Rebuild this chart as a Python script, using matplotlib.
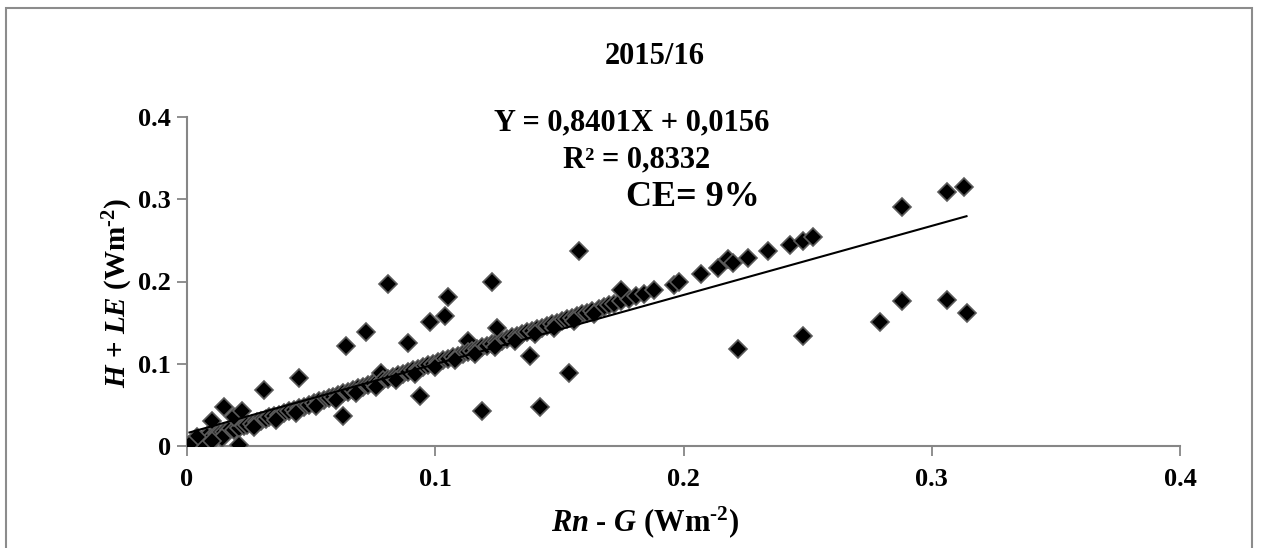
import matplotlib
matplotlib.use("Agg")
import matplotlib.pyplot as plt
from matplotlib.patches import Rectangle

plt.rcParams['font.family'] = 'Liberation Serif'
plt.rcParams['font.weight'] = 'bold'
plt.rcParams['mathtext.fontset'] = 'custom'
plt.rcParams['mathtext.rm'] = 'Liberation Serif:bold'
plt.rcParams['mathtext.bf'] = 'Liberation Serif:bold'
plt.rcParams['mathtext.it'] = 'Liberation Serif:italic:bold'

# Rn - G (x) and H + LE (y)
rn_g = [
    0.003, 0.005, 0.007, 0.008, 0.010, 0.012, 0.013, 0.015, 0.017, 0.019,
    0.021, 0.023, 0.024, 0.026, 0.028, 0.030, 0.032, 0.033, 0.035, 0.037,
    0.039, 0.041, 0.043, 0.045, 0.047, 0.049, 0.051, 0.053, 0.055, 0.057,
    0.059, 0.061, 0.063, 0.065, 0.067, 0.069, 0.071, 0.073, 0.075, 0.077,
    0.078, 0.079, 0.081, 0.083, 0.085, 0.087, 0.089, 0.091, 0.093, 0.095,
    0.097, 0.099, 0.101, 0.103, 0.105, 0.107, 0.109, 0.111, 0.113, 0.113,
    0.115, 0.117, 0.119, 0.121, 0.123, 0.125, 0.127, 0.129, 0.131, 0.133,
    0.135, 0.137, 0.139, 0.141, 0.143, 0.145, 0.147, 0.149, 0.151, 0.153,
    0.155, 0.157, 0.159, 0.161, 0.163, 0.166, 0.168, 0.170, 0.172, 0.175,
    0.178, 0.181, 0.184, 0.188, 0.196, 0.198, 0.207, 0.214, 0.218, 0.220,
    0.226, 0.234, 0.243, 0.248, 0.252, 0.288, 0.306, 0.313,
    # extra band days
    0.006, 0.014, 0.027, 0.036, 0.044, 0.052, 0.060, 0.068, 0.076, 0.084,
    0.092, 0.100, 0.108, 0.116, 0.124, 0.132, 0.140, 0.148, 0.156, 0.164,
    0.010, 0.004,
    # scattered days
    0.001, 0.021, 0.010, 0.015, 0.019, 0.022, 0.031, 0.045, 0.063, 0.064,
    0.072, 0.081, 0.089, 0.094, 0.098, 0.104, 0.105, 0.119, 0.123, 0.125,
    0.138, 0.142, 0.154, 0.158, 0.175, 0.222, 0.248, 0.279, 0.288, 0.306,
    0.314,
]
h_le = [
    0.005, 0.007, 0.010, 0.012, 0.011, 0.015, 0.014, 0.017, 0.019, 0.020,
    0.022, 0.024, 0.026, 0.027, 0.029, 0.031, 0.033, 0.035, 0.036, 0.038,
    0.040, 0.042, 0.044, 0.046, 0.048, 0.050, 0.052, 0.055, 0.056, 0.058,
    0.060, 0.062, 0.064, 0.066, 0.068, 0.070, 0.072, 0.074, 0.076, 0.079,
    0.089, 0.080, 0.082, 0.084, 0.086, 0.088, 0.090, 0.092, 0.094, 0.096,
    0.098, 0.100, 0.102, 0.104, 0.106, 0.108, 0.110, 0.112, 0.128, 0.114,
    0.116, 0.118, 0.120, 0.122, 0.124, 0.126, 0.128, 0.130, 0.132, 0.134,
    0.136, 0.138, 0.140, 0.142, 0.144, 0.146, 0.148, 0.150, 0.152, 0.154,
    0.156, 0.158, 0.160, 0.162, 0.164, 0.167, 0.169, 0.171, 0.173, 0.176,
    0.179, 0.182, 0.185, 0.190, 0.196, 0.199, 0.209, 0.217, 0.227, 0.223,
    0.228, 0.237, 0.244, 0.249, 0.254, 0.290, 0.309, 0.315,
    # extra band days
    0.003, 0.010, 0.023, 0.032, 0.040, 0.049, 0.056, 0.064, 0.072, 0.080,
    0.088, 0.096, 0.104, 0.112, 0.120, 0.128, 0.136, 0.144, 0.152, 0.160,
    0.006, 0.011,
    # scattered days
    0.001, 0.001, 0.030, 0.048, 0.035, 0.043, 0.068, 0.083, 0.036, 0.121,
    0.138, 0.197, 0.125, 0.061, 0.151, 0.158, 0.181, 0.043, 0.200, 0.143,
    0.110, 0.047, 0.089, 0.237, 0.190, 0.118, 0.134, 0.151, 0.176, 0.177,
    0.162,
]

slope = 0.8401
intercept = 0.0156
ticks = [0, 0.1, 0.2, 0.3, 0.4]
tick_labels = ['0', '0.1', '0.2', '0.3', '0.4']

W, H = 1261, 548
fig = plt.figure(figsize=(W / 100, H / 100), dpi=100, facecolor='white')
ax = fig.add_axes([187 / W, 1 - 446 / H, (1180 - 187) / W, (446 - 117) / H])

ax.plot(rn_g, h_le, linestyle='none', marker='D', markersize=9.2,
        markerfacecolor='black', markeredgecolor='#5a5a5a',
        markeredgewidth=1.2, zorder=3)

x0, x1 = min(rn_g), max(rn_g)
ax.plot([x0, x1], [slope * x0 + intercept, slope * x1 + intercept],
        color='black', linewidth=1.5, zorder=4)

ax.set_xlim(0, 0.4)
ax.set_ylim(0, 0.4)
ax.set_xticks(ticks)
ax.set_xticklabels(tick_labels)
ax.set_yticks(ticks)
ax.set_yticklabels(tick_labels)
ax.tick_params(axis='both', direction='out', length=7.5, width=1.3,
               color='#868686', labelsize=19)
ax.tick_params(axis='y', pad=4)
ax.tick_params(axis='x', pad=8)

for spine in ['top', 'right']:
    ax.spines[spine].set_visible(False)
for spine in ['left', 'bottom']:
    ax.spines[spine].set_color('#868686')
    ax.spines[spine].set_linewidth(1.5)

# texts placed in figure pixels
def ftext(px, py, s, **kw):
    fig.text(px / W, 1 - py / H, s, ha='center', va='center',
             fontweight='bold', **kw)

ftext(655, 56, '2015/16', fontsize=22)
ftext(632, 123, 'Y = 0,8401X + 0,0156', fontsize=22)
ftext(637, 160, 'R² = 0,8332', fontsize=22)
ftext(693, 197, 'CE= 9%', fontsize=26)
ftext(645, 522, r'$\mathit{Rn}$ - $\mathit{G}$ (Wm$^{\text{-2}}$)', fontsize=22)
fig.text(118 / W, 1 - 293 / H, r'$\mathit{H}$ + $\mathit{LE}$ (Wm$^{\text{-2}}$)',
         ha='center', va='center', rotation=90, fontsize=21, fontweight='bold')

# outer chart border
fig.patches.append(Rectangle((6 / W, -0.05), (1252 - 6) / W, 1.05 - 8 / H,
                             transform=fig.transFigure, fill=False,
                             edgecolor='#8c8c8c', linewidth=1.5))

fig.savefig('out.png', dpi=100, facecolor='white')
